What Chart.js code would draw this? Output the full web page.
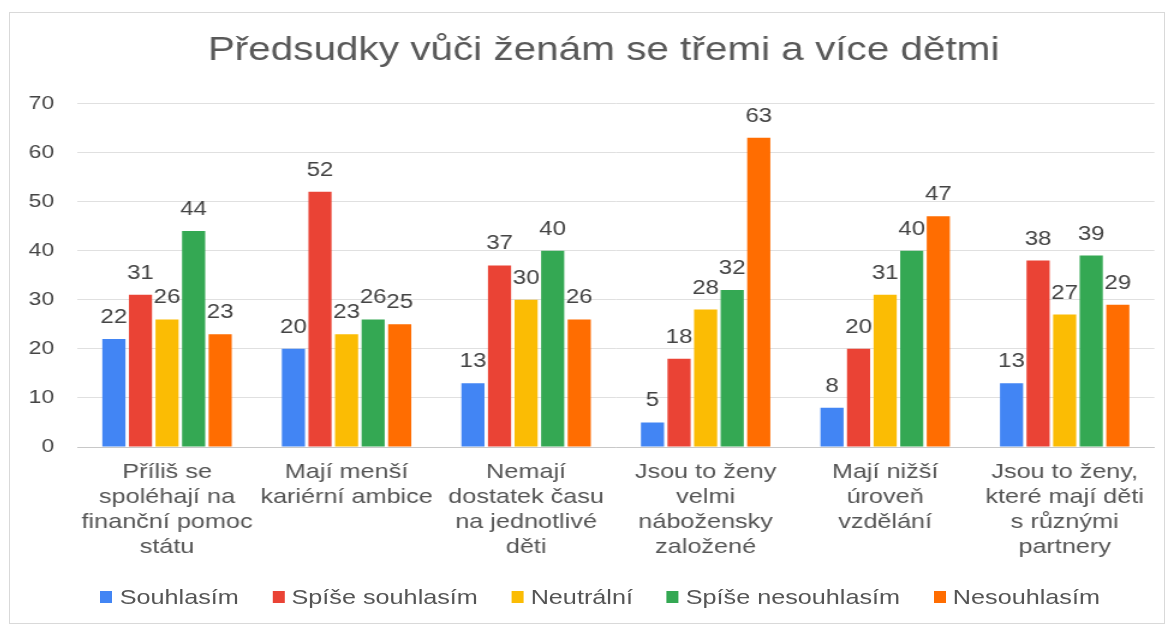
<!DOCTYPE html>
<html>
<head>
<meta charset="utf-8">
<script src="https://cdn.jsdelivr.net/npm/chart.js@4/dist/chart.umd.min.js"></script>
<style>
  body { margin: 0; background: #fff; }
  #wrap { position: absolute; left: 9px; top: 12px; width: 1156px; height: 612px; border: 1px solid #d9d9d9; box-sizing: border-box; overflow: hidden; }
  /* the reference text is a little wide, so the whole chart is stretched sideways */
  #inner { position: absolute; left: 0; top: 0; width: 961.7px; height: 610px; transform: scaleX(1.2); transform-origin: 0 0; }
  #legend { position: absolute; left: 0; right: 0; top: 572px; padding-left: 22px; display: flex; justify-content: center; font: 21px "Liberation Sans", Arial, sans-serif; color: #555; }
  #legend .item { display: flex; align-items: center; margin: 0 14px; }
  #legend .box { width: 10px; height: 12px; margin-right: 6px; }
</style>
</head>
<body>
<div id="wrap"><div id="inner"><canvas id="myChart"></canvas><div id="legend"></div></div></div>
<script>
const categories = [
  ['Příliš se', 'spoléhají na', 'finanční pomoc', 'státu'],
  ['Mají menší', 'kariérní ambice'],
  ['Nemají', 'dostatek času', 'na jednotlivé', 'děti'],
  ['Jsou to ženy', 'velmi', 'nábožensky', 'založené'],
  ['Mají nižší', 'úroveň', 'vzdělání'],
  ['Jsou to ženy,', 'které mají děti', 's různými', 'partnery']
];
const souhlasim = [22, 20, 13, 5, 8, 13];
const spiseSouhlasim = [31, 52, 37, 18, 20, 38];
const neutralni = [26, 23, 30, 28, 31, 27];
const spiseNesouhlasim = [44, 26, 40, 32, 40, 39];
const nesouhlasim = [23, 25, 26, 63, 47, 29];

const font = '"Liberation Sans", Arial, sans-serif';

// value above each bar
const barLabels = {
  id: 'barLabels',
  afterDatasetsDraw(chart) {
    const ctx = chart.ctx;
    ctx.save();
    ctx.font = '20px ' + font;
    ctx.fillStyle = '#444444';
    ctx.textAlign = 'center';
    ctx.textBaseline = 'alphabetic';
    chart.data.datasets.forEach((ds, i) => {
      chart.getDatasetMeta(i).data.forEach((bar, j) => {
        ctx.fillText(ds.data[j], bar.x, bar.y - 16);
      });
    });
    ctx.restore();
  }
};

// the title in the reference sits a bit right of the canvas centre
const titleShift = {
  id: 'titleShift',
  afterLayout(chart) {
    if (chart.titleBlock) chart.titleBlock.left += 21.6;
  }
};

const data = {
  labels: categories,
  datasets: [
    { label: 'Souhlasím', data: souhlasim, backgroundColor: '#4285F4' },
    { label: 'Spíše souhlasím', data: spiseSouhlasim, backgroundColor: '#EA4335' },
    { label: 'Neutrální', data: neutralni, backgroundColor: '#FBBC04' },
    { label: 'Spíše nesouhlasím', data: spiseNesouhlasim, backgroundColor: '#34A853' },
    { label: 'Nesouhlasím', data: nesouhlasim, backgroundColor: '#FF6D01' }
  ]
};

const config = {
  type: 'bar',
  data,
  plugins: [barLabels, titleShift],
  options: {
    responsive: true,
    maintainAspectRatio: false,
    animation: false,
    datasets: {
      bar: { barPercentage: 0.87, categoryPercentage: 0.74 }
    },
    layout: { padding: { left: 14, right: 9, top: 9, bottom: 50 } },
    plugins: {
      title: {
        display: true,
        text: 'Předsudky vůči ženám se třemi a více dětmi',
        color: '#595959',
        font: { family: font, size: 33.7, weight: 'normal' },
        padding: { top: 8, bottom: 33 }
      },
      legend: { display: false },
      tooltip: { enabled: false }
    },
    scales: {
      x: {
        grid: { display: false, drawTicks: false },
        border: { color: '#c8c8c8' },
        ticks: {
          color: '#555555',
          font: { family: font, size: 21, lineHeight: 1.19 },
          maxRotation: 0,
          autoSkip: false,
          padding: 13
        }
      },
      y: {
        min: 0,
        max: 70,
        afterFit(scale) { scale.width = 42; },
        ticks: {
          stepSize: 10,
          color: '#444444',
          font: { family: font, size: 19 },
          padding: 19.3
        },
        grid: { color: '#e0e0e0', drawTicks: false },
        border: { display: false }
      }
    }
  }
};

const myChart = new Chart(document.getElementById('myChart'), config);

// html legend built from the datasets
const legendEl = document.getElementById('legend');
myChart.data.datasets.forEach(ds => {
  const item = document.createElement('div');
  item.className = 'item';
  const box = document.createElement('span');
  box.className = 'box';
  box.style.background = ds.backgroundColor;
  const txt = document.createElement('span');
  txt.textContent = ds.label;
  item.appendChild(box);
  item.appendChild(txt);
  legendEl.appendChild(item);
});
</script>
</body>
</html>
